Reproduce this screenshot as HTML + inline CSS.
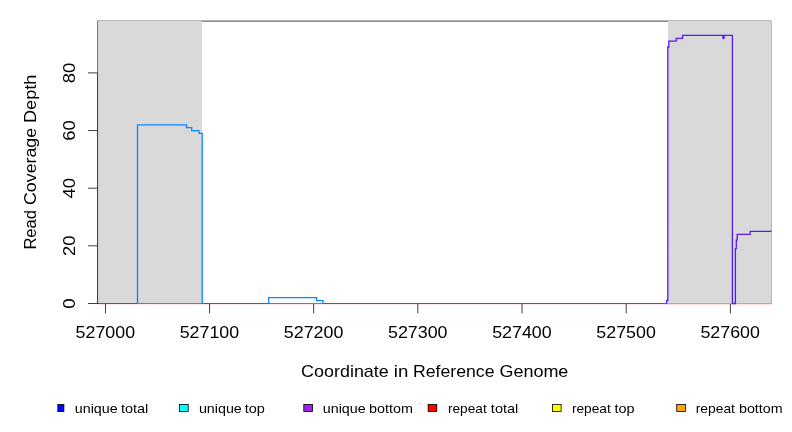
<!DOCTYPE html>
<html>
<head>
<meta charset="utf-8">
<title>Read coverage</title>
<style>
html,body{margin:0;padding:0;background:#fff;}
body{width:792px;height:432px;overflow:hidden;font-family:"Liberation Sans",sans-serif;}
svg{display:block;position:absolute;left:0;top:0;}
text{font-family:"Liberation Sans",sans-serif;fill:#000;}
.t{filter:grayscale(1);}
</style>
</head>
<body>
<svg width="792" height="432" viewBox="0 0 792 432">
  <rect x="0" y="0" width="792" height="432" fill="#ffffff"/>

  <!-- shaded regions -->
  <rect x="97.5" y="20.6" width="104.4" height="282.9" fill="#d9d9d9"/>
  <rect x="668" y="20.6" width="103.5" height="282.9" fill="#d9d9d9"/>
  <!-- shaded region borders -->
  <g stroke="#a6a6a6" stroke-width="0.75" fill="none">
    <line x1="97.5" y1="20.5" x2="201.9" y2="20.5"/>
    <line x1="668" y1="20.5" x2="770.9" y2="20.5"/>
    <line x1="771.5" y1="20.9" x2="771.5" y2="303.5"/>
  </g>

  <!-- plot box (top + left) -->
  <g stroke="#000" stroke-width="0.75" fill="none">
    <line x1="201.9" y1="21.1" x2="668" y2="21.1"/>
    <line x1="97.55" y1="20.6" x2="97.55" y2="72.9" stroke-opacity="0.66"/>
  </g>

  <!-- baseline colours -->
  <rect x="97.5" y="304" width="674" height="1" fill="#f6dcec" fill-opacity="0.7"/>
  <rect x="97.5" y="303" width="674" height="1" fill="#5048ff"/>
  <rect x="137.5" y="303" width="64.5" height="1" fill="#d05080"/>
  <rect x="268.7" y="303" width="54.3" height="1" fill="#d05080"/>
  <rect x="667" y="303" width="104.5" height="1" fill="#78d088"/>
  <rect x="137.5" y="304" width="64.5" height="1" fill="#ffe6e6"/>
  <rect x="268.7" y="304" width="54.3" height="1" fill="#ffe6e6"/>
  <rect x="667" y="304" width="104.5" height="1" fill="#ffe2e2"/>

  <!-- left coverage (blue+cyan) -->
  <g fill="none" stroke="#0888ff" stroke-width="1.3" stroke-linejoin="miter">
    <path d="M137.5 303.7 V124.8 H186.45 V127.7 H191.65 V130.6 H199 V133.4 H202.2 V303.7"/>
    <path d="M268.7 303.7 V297.7 H316.7 V300.6 H322.95 V303.7"/>
  </g>

  <!-- right coverage (blue+purple) -->
  <g fill="none" stroke="#5818f8" stroke-width="1.3" stroke-linejoin="miter">
    <path d="M666 303.5 H666.6 V300.6 H667.8 V47 H668.8 V41.2 H676.2 V38.3 H682.5 V35.4 H732.4 V303.5 H735.4 V248.7 H736.3 V240.1 H737.2 V234.3 H750.2 V231.4 H771.5"/>
    <rect x="722.3" y="35" width="2.45" height="3.9" fill="#5818f8" stroke="none"/>
  </g>

  <!-- axes -->
  <g stroke="#000" stroke-width="0.75" fill="none">
    <line x1="97.55" y1="72.9" x2="97.55" y2="303.5"/>
    <line x1="88" y1="303.5" x2="97.9" y2="303.5"/>
    <line x1="88" y1="245.85" x2="97.5" y2="245.85"/>
    <line x1="88" y1="188.2" x2="97.5" y2="188.2"/>
    <line x1="88" y1="130.55" x2="97.5" y2="130.55"/>
    <line x1="88" y1="72.9" x2="97.5" y2="72.9"/>
    <line x1="105.5" y1="304" x2="105.5" y2="313.4"/>
    <line x1="209.55" y1="304" x2="209.55" y2="313.4"/>
    <line x1="313.65" y1="304" x2="313.65" y2="313.4"/>
    <line x1="417.8" y1="304" x2="417.8" y2="313.4"/>
    <line x1="522.0" y1="304" x2="522.0" y2="313.4"/>
    <line x1="626.2" y1="304" x2="626.2" y2="313.4"/>
    <line x1="730.4" y1="304" x2="730.4" y2="313.4"/>
  </g>

  <!-- x tick labels -->
  <g class="t" font-size="16.6" text-anchor="middle">
    <text x="105.3" y="338" textLength="59.5" lengthAdjust="spacingAndGlyphs">527000</text>
    <text x="209.45" y="338" textLength="59.5" lengthAdjust="spacingAndGlyphs">527100</text>
    <text x="313.6" y="338" textLength="59.5" lengthAdjust="spacingAndGlyphs">527200</text>
    <text x="417.75" y="338" textLength="59.5" lengthAdjust="spacingAndGlyphs">527300</text>
    <text x="521.9" y="338" textLength="59.5" lengthAdjust="spacingAndGlyphs">527400</text>
    <text x="626.05" y="338" textLength="59.5" lengthAdjust="spacingAndGlyphs">527500</text>
    <text x="730.2" y="338" textLength="59.5" lengthAdjust="spacingAndGlyphs">527600</text>
  </g>

  <!-- y tick labels -->
  <g class="t" font-size="16.6" text-anchor="middle">
    <text transform="translate(75.3,303.5) rotate(-90)" textLength="10.4" lengthAdjust="spacingAndGlyphs">0</text>
    <text transform="translate(75.3,245.85) rotate(-90)" textLength="20.5" lengthAdjust="spacingAndGlyphs">20</text>
    <text transform="translate(75.3,188.2) rotate(-90)" textLength="20.5" lengthAdjust="spacingAndGlyphs">40</text>
    <text transform="translate(75.3,130.55) rotate(-90)" textLength="20.5" lengthAdjust="spacingAndGlyphs">60</text>
    <text transform="translate(75.3,72.9) rotate(-90)" textLength="20.5" lengthAdjust="spacingAndGlyphs">80</text>
  </g>

  <!-- axis titles -->
  <g class="t" font-size="16.6">
    <text x="301.1" y="377.3" textLength="87.7" lengthAdjust="spacingAndGlyphs">Coordinate</text>
    <text x="393.8" y="377.3" textLength="14.5" lengthAdjust="spacingAndGlyphs">in</text>
    <text x="413" y="377.3" textLength="81.5" lengthAdjust="spacingAndGlyphs">Reference</text>
    <text x="499.4" y="377.3" textLength="69" lengthAdjust="spacingAndGlyphs">Genome</text>
    <text transform="translate(36.15,249.61) rotate(-90)" textLength="39.64" lengthAdjust="spacingAndGlyphs">Read</text>
    <text transform="translate(36.15,205.03) rotate(-90)" textLength="77.21" lengthAdjust="spacingAndGlyphs">Coverage</text>
    <text transform="translate(36.15,123.04) rotate(-90)" textLength="48.42" lengthAdjust="spacingAndGlyphs">Depth</text>
  </g>

  <!-- legend -->
  <defs><clipPath id="lc"><rect x="57.3" y="400" width="740" height="20"/></clipPath></defs>
  <g stroke="#000" stroke-width="0.8" clip-path="url(#lc)">
    <rect x="55.2" y="404.5" width="8.7" height="7" fill="#0000ff"/>
    <rect x="179.5" y="404.5" width="8.7" height="7" fill="#00ffff"/>
    <rect x="303.8" y="404.5" width="8.7" height="7" fill="#a020f0"/>
    <rect x="428.1" y="404.5" width="8.7" height="7" fill="#ff0000"/>
    <rect x="552.4" y="404.5" width="8.7" height="7" fill="#ffff00"/>
    <rect x="676.7" y="404.5" width="8.7" height="7" fill="#ffa500"/>
  </g>
  <rect x="419.2" y="403" width="1.6" height="0.8" fill="#b4b4b4"/>
  <g class="t" font-size="13.2">
    <text x="74.75" y="412.9" textLength="42.9" lengthAdjust="spacingAndGlyphs">unique</text>
    <text x="120.90" y="412.9" textLength="27.40" lengthAdjust="spacingAndGlyphs">total</text>
    <text x="198.92" y="412.9" textLength="42.9" lengthAdjust="spacingAndGlyphs">unique</text>
    <text x="244.75" y="412.9" textLength="20.15" lengthAdjust="spacingAndGlyphs">top</text>
    <text x="322.8" y="412.9" textLength="42.9" lengthAdjust="spacingAndGlyphs">unique</text>
    <text x="369.12" y="412.9" textLength="43.88" lengthAdjust="spacingAndGlyphs">bottom</text>
    <text x="447.95" y="412.9" textLength="38.82" lengthAdjust="spacingAndGlyphs">repeat</text>
    <text x="490.89" y="412.9" textLength="27.43" lengthAdjust="spacingAndGlyphs">total</text>
    <text x="571.95" y="412.9" textLength="38.82" lengthAdjust="spacingAndGlyphs">repeat</text>
    <text x="614.43" y="412.9" textLength="20.08" lengthAdjust="spacingAndGlyphs">top</text>
    <text x="695.72" y="412.9" textLength="39.24" lengthAdjust="spacingAndGlyphs">repeat</text>
    <text x="738.99" y="412.9" textLength="43.66" lengthAdjust="spacingAndGlyphs">bottom</text>
  </g>
</svg>
</body>
</html>
